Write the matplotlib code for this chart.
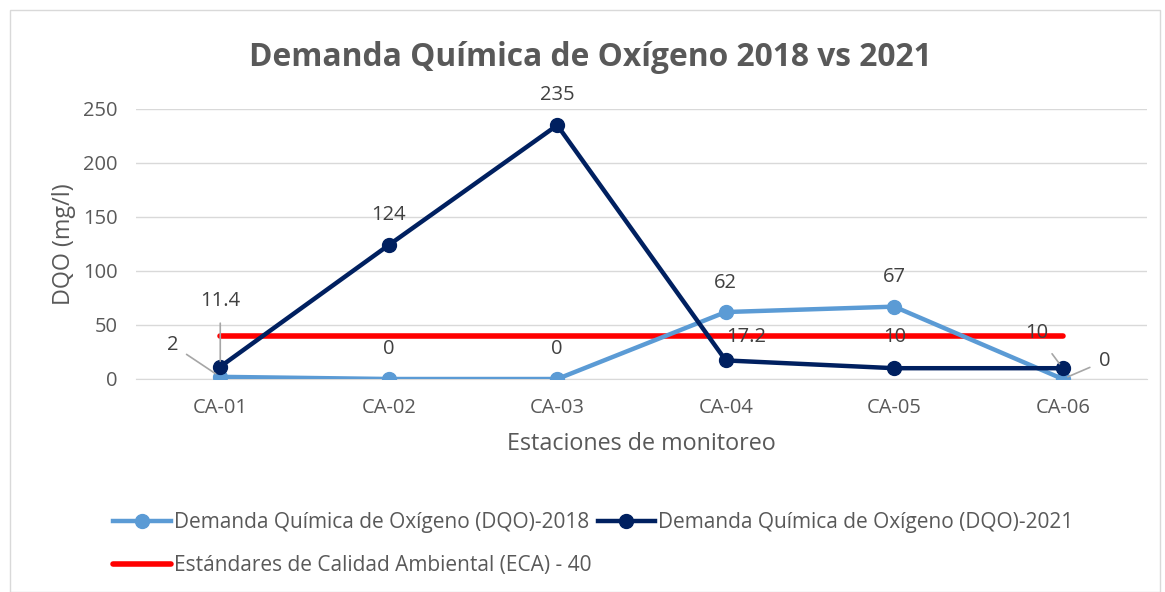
import matplotlib
matplotlib.use("Agg")
import matplotlib.pyplot as plt
from matplotlib.patches import Rectangle

categories = ["CA-01", "CA-02", "CA-03", "CA-04", "CA-05", "CA-06"]
dqo_2018 = [2, 0, 0, 62, 67, 0]
dqo_2021 = [11.4, 124, 235, 17.2, 10, 10]
eca = [40, 40, 40, 40, 40, 40]
labels_2018 = ["2", "0", "0", "62", "67", "0"]
labels_2021 = ["11.4", "124", "235", "17.2", "10", "10"]
yticks = [0, 50, 100, 150, 200, 250]

FONT = "Open Sans"
plt.rcParams['font.family'] = [FONT, 'DejaVu Sans']
TXT = "#595959"
LBL = "#404040"

fig = plt.figure(figsize=(11.65, 5.92), dpi=100)
ax = fig.add_axes([136/1165, 1-379/592, (1147-136)/1165, (379-109)/592])

x = list(range(len(categories)))
c18 = "#5B9BD5"
c21 = "#002060"
ax.plot(x, dqo_2018, color=c18, lw=3.2, marker="o", ms=10, zorder=3,
        label="Demanda Química de Oxígeno (DQO)-2018")
ax.plot(x, dqo_2021, color=c21, lw=3.2, marker="o", ms=10, zorder=4,
        label="Demanda Química de Oxígeno (DQO)-2021")
ax.plot(x, eca, color="#FF0000", lw=4, zorder=2, solid_capstyle="round",
        label="Estándares de Calidad Ambiental (ECA) - 40")

ax.set_xlim(-0.5, len(categories) - 0.5)
ax.set_ylim(0, 250)
ax.set_yticks(yticks)
ax.set_xticks(x)
ax.set_xticklabels(categories)
ax.tick_params(length=0, labelsize=14.5, colors=TXT)
ax.tick_params(axis="x", pad=14)
ax.tick_params(axis="y", pad=13)
ax.grid(axis="y", color="#D9D9D9", lw=1)
ax.set_axisbelow(True)
for s in ["top", "right", "left"]:
    ax.spines[s].set_visible(False)
ax.spines["bottom"].set_color("#D9D9D9")
ax.spines["bottom"].set_zorder(0.5)

ax.set_ylabel("DQO (mg/l)", fontsize=16.8, color=TXT, labelpad=5)
ax.set_xlabel("Estaciones de monitoreo", fontsize=16.8, color=TXT, labelpad=10)

fig.text(590/1165, 1-57/592, "Demanda Química de Oxígeno 2018 vs 2021",
         ha="center", va="center", fontsize=22.9, fontweight="bold", color=TXT)

# data labels (offsets in pixels)
off18 = [(-48, 32), (0, 30), (0, 30), (0, 29), (0, 30), (42, 18)]
off21 = [(0, 66), (0, 30), (0, 30), (20, 23), (0, 31), (-26, 35)]
leader18 = [True, False, False, False, False, True]
leader21 = [True, False, False, False, False, True]
for i in x:
    ap = dict(arrowstyle="-", color="#A6A6A6", lw=1.2, shrinkA=5, shrinkB=4) if leader18[i] else None
    ax.annotate(labels_2018[i], (i, dqo_2018[i]), xytext=off18[i], textcoords="offset pixels",
                ha="center", va="center", fontsize=14.5, color=LBL, arrowprops=ap, zorder=6)
    ap = dict(arrowstyle="-", color="#A6A6A6", lw=1.2, shrinkA=7, shrinkB=4) if leader21[i] else None
    ax.annotate(labels_2021[i], (i, dqo_2021[i]), xytext=off21[i], textcoords="offset pixels",
                ha="center", va="center", fontsize=14.5, color=LBL, arrowprops=ap, zorder=6)

h, l = ax.get_legend_handles_labels()
order = [0, 2, 1]
leg = fig.legend([h[k] for k in order], [l[k] for k in order], ncol=2,
                 loc="upper left", bbox_to_anchor=(105/1165, 1-504/592),
                 frameon=False, fontsize=15, handlelength=2.75, handletextpad=0.15,
                 columnspacing=0.3, labelspacing=1.05, borderaxespad=0)
for t in leg.get_texts():
    t.set_color(TXT)

fig.patches.append(Rectangle((10/1165, 0), 1150/1165, 1-10/592, transform=fig.transFigure,
                             fill=False, edgecolor="#D9D9D9", lw=1))

fig.savefig("out.png", dpi=100)
